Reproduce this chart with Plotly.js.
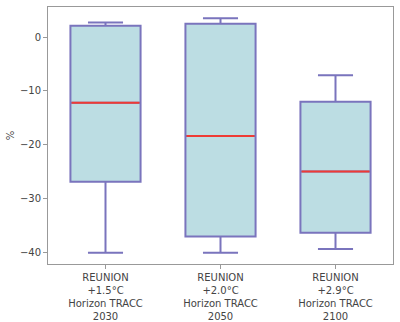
<!DOCTYPE html>
<html><head><meta charset="utf-8">
<script src="https://cdn.plot.ly/plotly-3.0.1.min.js"></script>
<style>body{margin:0;padding:0;background:#fff}#chart{width:400px;height:322px}</style>
</head><body><div id="chart"></div>
<script>
const categories = [
  "REUNION<br>+1.5°C<br>Horizon TRACC<br>2030",
  "REUNION<br>+2.0°C<br>Horizon TRACC<br>2050",
  "REUNION<br>+2.9°C<br>Horizon TRACC<br>2100"
];
const lowerWhisker = [-40.1, -40.1, -39.4];
const q1Values = [-26.9, -37.1, -36.4];
const medianValues = [-12.2, -18.4, -25.0];
const q3Values = [2.1, 2.5, -12.0];
const upperWhisker = [2.7, 3.5, -7.1];
const yTicks = [0, -10, -20, -30, -40];

const boxW = 0.61;
const traces = [
  {
    type: 'box', x: categories,
    q1: q1Values, median: medianValues, q3: q3Values,
    lowerfence: lowerWhisker, upperfence: upperWhisker,
    fillcolor: '#bcdde3', line: {color: '#7a74bd', width: 2},
    whiskerwidth: 0.5, width: boxW, boxpoints: false, hoverinfo: 'skip'
  },
  {
    type: 'box', x: categories,
    q1: medianValues, median: medianValues, q3: medianValues,
    lowerfence: medianValues, upperfence: medianValues,
    fillcolor: 'rgba(0,0,0,0)', line: {color: '#ee3b35', width: 2},
    whiskerwidth: 0, width: boxW - 0.02, boxpoints: false, hoverinfo: 'skip'
  }
];

const layout = {
  width: 400, height: 322,
  margin: {l: 48, r: 7, t: 7, b: 58},
  paper_bgcolor: '#fff', plot_bgcolor: '#fff',
  showlegend: false, boxmode: 'overlay',
  font: {family: 'DejaVu Sans', size: 10, color: '#444'},
  xaxis: {
    type: 'category', range: [-0.5, 2.5],
    showline: true, mirror: true, linecolor: '#999', linewidth: 1,
    ticks: 'outside', ticklen: 4, tickcolor: '#999',
    showgrid: false, zeroline: false,
    tickfont: {family: 'DejaVu Sans', size: 10, color: '#444'}
  },
  yaxis: {
    range: [-42.2, 5.6],
    tickvals: yTicks, ticktext: yTicks.map(v => v < 0 ? '\u2212' + Math.abs(v) : String(v)),
    showline: true, mirror: true, linecolor: '#999', linewidth: 1,
    ticks: 'outside', ticklen: 4, tickcolor: '#999',
    showgrid: false, zeroline: false,
    title: {text: '%', font: {family: 'DejaVu Sans', size: 10, color: '#444'}, standoff: 3},
    tickfont: {family: 'DejaVu Sans', size: 10, color: '#444'}
  }
};
Plotly.newPlot('chart', traces, layout, {displayModeBar: false, staticPlot: true});
</script></body></html>
